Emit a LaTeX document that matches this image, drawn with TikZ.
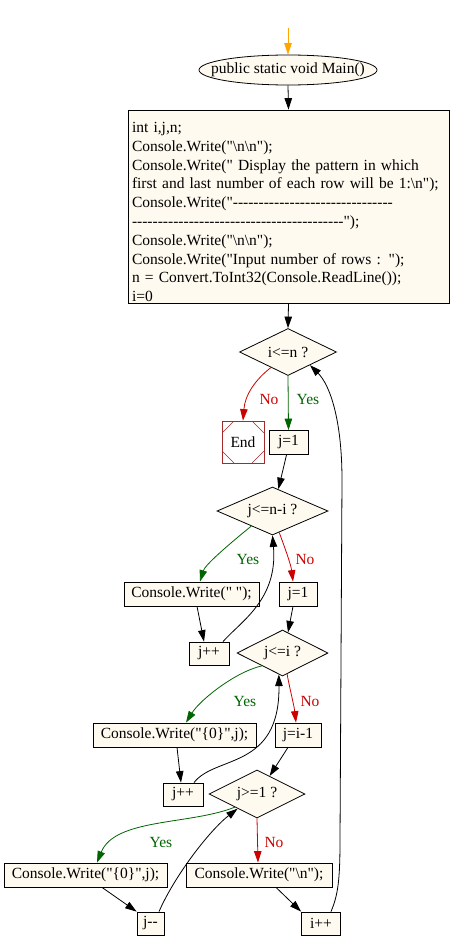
\documentclass[tikz,border=0pt]{standalone}
\usepackage{fontspec}
\newfontfamily\gv{Liberation Serif}[Ligatures=TeXOff]
\usetikzlibrary{shapes.geometric,arrows.meta,calc}
\definecolor{nodefill}{HTML}{FFFAF0}
\definecolor{yescol}{HTML}{006400}
\definecolor{nocol}{HTML}{CC0000}
\definecolor{endcol}{HTML}{A52A2A}
\definecolor{startcol}{HTML}{FFA500}
\begin{document}
\begin{tikzpicture}[x=1pt,y=-1pt,
  every node/.style={font=\gv\fontsize{15.5}{18.8}\selectfont},
  box/.style={draw, fill=nodefill, rectangle, inner sep=0pt, line width=0.8pt, minimum height=24pt},
  dia/.style={draw, fill=nodefill, diamond, aspect=2, inner sep=0pt, line width=0.8pt},
  startnode/.style={draw, fill=nodefill, ellipse, inner sep=0pt, line width=0.8pt},
  endnode/.style={draw=endcol, rectangle, inner sep=0pt, line width=0.8pt,
    minimum width=42pt, minimum height=42pt,
    path picture={
      \draw[endcol, line width=0.6pt]
        ([yshift=-12pt]path picture bounding box.north west) -- ([xshift=12pt]path picture bounding box.north west)
        ([xshift=-12pt]path picture bounding box.north east) -- ([yshift=-12pt]path picture bounding box.north east)
        ([yshift=12pt]path picture bounding box.south east) -- ([xshift=-12pt]path picture bounding box.south east)
        ([xshift=12pt]path picture bounding box.south west) -- ([yshift=12pt]path picture bounding box.south west);
    }},
  arr/.style={-{Triangle[length=11.5pt,width=7.5pt]}, line width=0.8pt},
  yarr/.style={arr, color=yescol},
  narr/.style={arr, color=nocol},
  ylab/.style={text=yescol, inner sep=0pt},
  nlab/.style={text=nocol, inner sep=0pt}
]
\useasboundingbox (0,0) rectangle (450,950);

% nodes
\coordinate (st) at (288,28);
\node[startnode, minimum width=178pt, minimum height=30pt] (main) at (288,70) {\makebox[0pt]{public static void Main()}};
\node[box, minimum width=321pt, minimum height=193pt, text width=313pt, align=left] (init) at (288.5,206.5) {\rule{0pt}{21.5pt}int i,j,n;\\
Console.Write("\textbackslash n\textbackslash n");\\
Console.Write(" Display the pattern in which\\
first and last number of each row will be 1:\textbackslash n");\\
Console.Write("-------------------------------\\
-----------------------------------------");\\
Console.Write("\textbackslash n\textbackslash n");\\
Console.Write("Input number of rows : ");\\
n = Convert.ToInt32(Console.ReadLine());\\
i=0};
\node[dia, minimum width=97pt, minimum height=47pt] (d1) at (288,352) {\makebox[0pt]{i<=n ?}};
\node[endnode] (endn) at (243,442) {End};
\node[box, minimum width=39pt] (j1a) at (288.5,442.5) {j=1};
\node[dia, minimum width=111pt, minimum height=48pt] (d2) at (272.5,511) {\makebox[0pt]{j<=n-i ?}};
\node[box, minimum width=135pt] (cw1) at (191.5,594) {Console.Write(" ");};
\node[box, minimum width=38pt] (j1b) at (298,594) {j=1};
\node[box, minimum width=40pt, minimum height=23pt] (jpp1) at (209,653.5) {j++};
\node[dia, minimum width=91pt, minimum height=46pt] (d3) at (282.5,653) {\makebox[0pt]{j<=i ?}};
\node[box, minimum width=163pt] (cw2) at (174.5,735) {Console.Write("\{0\}",j);};
\node[box, minimum width=46pt] (jim1) at (298,735) {j=i-1};
\node[box, minimum width=40pt, minimum height=23pt] (jpp2) at (183,794.5) {j++};
\node[dia, minimum width=96pt, minimum height=48pt] (d4) at (257,794) {\makebox[0pt]{j>=1 ?}};
\node[box, minimum width=163pt] (cw3) at (85.5,875) {Console.Write("\{0\}",j);};
\node[box, minimum width=146pt] (cwn) at (259,875) {Console.Write("\textbackslash n");};
\node[box, minimum width=27pt, minimum height=23pt] (jmm) at (150.5,923.5) {j--};
\node[box, minimum width=39pt, minimum height=23pt] (ipp) at (321,923.5) {i++};

% labels
\node[nlab] (l1n) at (269,399) {No};
\node[ylab] (l1y) at (308,399) {Yes};
\node[ylab] (l2y) at (248,559) {Yes};
\node[nlab] (l2n) at (305,559) {No};
\node[ylab] (l3y) at (245,701) {Yes};
\node[nlab] (l3n) at (310,701) {No};
\node[ylab] (l4y) at (161,842) {Yes};
\node[nlab] (l4n) at (274,842) {No};

% edges
\draw[arr, color=startcol] (st) -- (main.north);
\draw[arr] (main.south) -- (init.north);
\draw[arr] (init.south) -- (d1.north);
\draw[narr] ($(d1.south)!0.35!(d1.west)$) .. controls (255,380) and (245,395) .. (endn.north);
\draw[yarr] (d1.south) -- (j1a.north);
\draw[arr] ([xshift=-2pt]j1a.south) -- (d2.75);
\draw[yarr] ($(d2.south)!0.38!(d2.west)$) .. controls (228,545) and (205,565) .. ([xshift=8.5pt]cw1.north);
\draw[narr] ($(d2.south)!0.12!(d2.east)$) .. controls (285,548) and (291,565) .. ([xshift=-5pt]j1b.north);
\draw[arr] ([xshift=5.5pt]cw1.south) -- ([xshift=-5pt]jpp1.north);
\draw[arr] ([xshift=14pt]jpp1.north) .. controls (240,622) and (278,600) .. (d2.south);
\draw[arr] ([xshift=-5pt]j1b.south) -- (d3.75);
\draw[yarr] ($(d3.south)!0.45!(d3.west)$) .. controls (235,672) and (200,700) .. ([xshift=11.5pt]cw2.north);
\draw[narr] ($(d3.south)!0.1!(d3.east)$) .. controls (290,690) and (294,705) .. ([xshift=-2pt]jim1.north);
\draw[arr] ([xshift=2.5pt]cw2.south) -- ([xshift=-2pt]jpp2.north);
\draw[arr] ([xshift=11pt]jpp2.north) .. controls (215,755) and (280,770) .. ($(d3.south)!0.08!(d3.west)$);
\draw[arr] ([xshift=-10pt]jim1.south) -- (d4.55);
\draw[yarr] ($(d4.south)!0.46!(d4.west)$) .. controls (190,825) and (115,818) .. ([xshift=11.5pt]cw3.north);
\draw[narr] (d4.south) -- ([xshift=-1pt]cwn.north);
\draw[arr] ([xshift=16.5pt]cw3.south) -- (jmm.north west);
\draw[arr] ([xshift=8.5pt]jmm.north) .. controls (175,875) and (210,830) .. ($(d4.south)!0.4!(d4.west)$);
\draw[arr] ([xshift=17pt]cwn.south) -- (ipp.north west);
\draw[arr] ([xshift=10pt]ipp.north) .. controls (338,895) and (340,880) .. (340,840) -- (342,480) .. controls (342,420) and (330,385) .. ($(d1.south)!0.45!(d1.east)$);
\end{tikzpicture}
\end{document}
